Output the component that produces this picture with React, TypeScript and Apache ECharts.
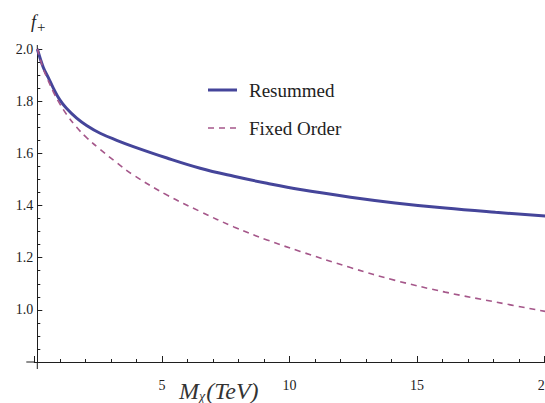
import React, { useEffect, useRef } from "react";
import * as echarts from "echarts";

const massX = [0.12, 0.35, 0.55, 0.75, 1.0, 1.26, 1.66, 2.05, 2.58, 3.23, 3.88, 5.2, 6.5, 7.82, 9.12, 10.42, 12.39, 14.14, 16.1, 18.07, 20.02];
const resummed = [2.0, 1.93, 1.89, 1.849, 1.805, 1.773, 1.735, 1.707, 1.677, 1.65, 1.626, 1.582, 1.543, 1.512, 1.485, 1.461, 1.432, 1.41, 1.39, 1.374, 1.36];
const fixedOrder = [2.0, 1.925, 1.878, 1.835, 1.79, 1.75, 1.7, 1.66, 1.615, 1.564, 1.517, 1.44, 1.377, 1.318, 1.268, 1.224, 1.162, 1.113, 1.068, 1.03, 0.994];
const seriesNames = ["Resummed", "Fixed Order"];
const seriesColors = ["#45459a", "#a5578a"];

const SERIF = "'Liberation Serif', serif";
const AXIS = "#1f1f1f";

export default function App() {
  const ref = useRef<HTMLDivElement>(null);
  useEffect(() => {
    const chart = echarts.init(ref.current!, null, { renderer: "svg" });
    const pair = (ys: number[]) => massX.map((x, i) => [x, ys[i]]);
    chart.setOption({
      animation: false,
      backgroundColor: "#ffffff",
      textStyle: { fontFamily: SERIF },
      grid: { left: 34.3, top: 49, width: 638, height: 313 },
      xAxis: {
        type: "value",
        min: 0,
        max: 25,
        interval: 5,
        axisLine: { lineStyle: { color: AXIS, width: 1 } },
        axisTick: { inside: true, length: 6, lineStyle: { color: AXIS } },
        minorTick: { show: true, splitNumber: 5, length: 3, lineStyle: { color: AXIS } },
        splitLine: { show: false },
        axisLabel: {
          margin: 16,
          fontFamily: SERIF,
          fontSize: 14,
          color: "#222",
          formatter: (v: number) => (v === 0 ? "" : String(v)),
        },
      },
      yAxis: {
        type: "value",
        min: 0.8,
        max: 2.0,
        interval: 0.2,
        offset: -3,
        axisLine: { show: true, lineStyle: { color: AXIS, width: 1 } },
        axisTick: { show: true, inside: true, length: 5, lineStyle: { color: AXIS } },
        minorTick: { show: true, splitNumber: 4, length: 3, lineStyle: { color: AXIS } },
        splitLine: { show: false },
        axisLabel: {
          margin: 4,
          fontFamily: SERIF,
          fontSize: 14,
          color: "#222",
          formatter: (v: number) => (v < 0.85 ? "" : v.toFixed(1)),
        },
      },
      series: [
        {
          name: seriesNames[0],
          type: "line",
          data: pair(resummed),
          smooth: 0.4,
          showSymbol: false,
          symbol: "none",
          clip: false,
          color: seriesColors[0],
          lineStyle: { color: seriesColors[0], width: 3 },
        },
        {
          name: seriesNames[1],
          type: "line",
          data: pair(fixedOrder),
          smooth: 0.4,
          showSymbol: false,
          symbol: "none",
          clip: false,
          color: seriesColors[1],
          lineStyle: { color: seriesColors[1], width: 1.6, type: [6, 5] },
        },
      ],
    });
    const o = chart.convertToPixel({ xAxisIndex: 0, yAxisIndex: 0 }, [0, 0.8]) as number[];
    const top = chart.convertToPixel({ xAxisIndex: 0, yAxisIndex: 0 }, [0, 2.0]) as number[];
    const yx = o[0] + 3;
    const legendX = 208;
    const legendY = [90, 128];
    chart.setOption({
      graphic: [
        { type: "line", shape: { x1: o[0] - 8, y1: o[1], x2: o[0], y2: o[1] }, style: { stroke: AXIS, lineWidth: 1 } },
        { type: "line", shape: { x1: yx, y1: o[1], x2: yx, y2: o[1] + 7 }, style: { stroke: AXIS, lineWidth: 1 } },
        { type: "line", shape: { x1: yx, y1: top[1] - 4, x2: yx, y2: top[1] }, style: { stroke: AXIS, lineWidth: 1 } },
        {
          type: "line",
          shape: { x1: legendX, y1: legendY[0], x2: legendX + 29, y2: legendY[0] },
          style: { stroke: seriesColors[0], lineWidth: 3 },
        },
        {
          type: "line",
          shape: { x1: legendX, y1: legendY[1], x2: legendX + 29, y2: legendY[1] },
          style: { stroke: seriesColors[1], lineWidth: 1.6, lineDash: [6, 5] },
        },
        {
          type: "text",
          x: legendX + 41,
          y: legendY[0],
          style: { text: seriesNames[0], fontFamily: SERIF, fontSize: 19, fill: "#222", verticalAlign: "middle" },
        },
        {
          type: "text",
          x: legendX + 41,
          y: legendY[1],
          style: { text: seriesNames[1], fontFamily: SERIF, fontSize: 19, fill: "#222", verticalAlign: "middle" },
        },
        {
          type: "text",
          x: 31,
          y: 22,
          style: {
            text: "{f|f}{s|+}",
            verticalAlign: "middle",
            rich: {
              f: { fontFamily: SERIF, fontStyle: "italic", fontSize: 18, fill: "#222" },
              s: { fontFamily: SERIF, fontSize: 15, fill: "#222", padding: [10, 0, 0, 1] },
            },
          },
        },
        {
          type: "text",
          x: 179,
          y: 391,
          style: {
            text: "{m|M}{s|χ}{m|(TeV)}",
            verticalAlign: "middle",
            rich: {
              m: { fontFamily: SERIF, fontStyle: "italic", fontSize: 24, fill: "#333" },
              s: { fontFamily: SERIF, fontStyle: "italic", fontSize: 14, fill: "#333", padding: [10, 1, 0, 0] },
            },
          },
        },
      ],
    });
    return () => chart.dispose();
  }, []);
  return (
    <div
      ref={ref}
      style={{ position: "fixed", left: 0, top: 0, width: 690, height: 403, background: "#fff" }}
    />
  );
}
